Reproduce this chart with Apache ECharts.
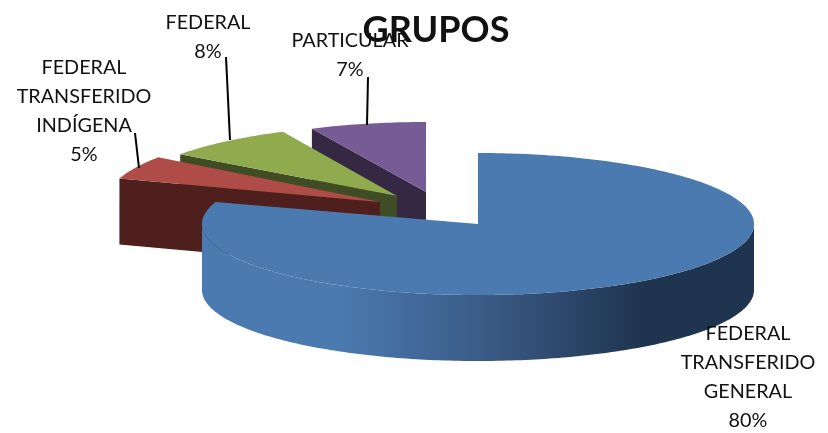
<!DOCTYPE html>
<html>
<head>
<meta charset="utf-8">
<title>GRUPOS</title>
<script src="https://cdn.jsdelivr.net/npm/echarts@6/dist/echarts.min.js"></script>
<style>
  html, body { margin: 0; padding: 0; background: #fff; }
  #chart { width: 828px; height: 433px; }
</style>
</head>
<body>
<div id="chart"></div>
<script>
// datos
const names = [
  "FEDERAL\nTRANSFERIDO\nGENERAL",
  "FEDERAL\nTRANSFERIDO\nINDÍGENA",
  "FEDERAL",
  "PARTICULAR",
];
const values = [80, 5, 8, 7];

// layout of the tilted pie, the slices are pulled apart by hand like in the original
const topColors = ["#4a7ab0", "#b04c48", "#8fab4e", "#775b94"];
const wallColors = ["#3a5a85", "#4f1f1d", "#3f4c24", "#352842"];
const centers = [[478, 224], [380, 202], [397, 196], [426, 192]];
const radii = [[276, 71], [274, 76], [268, 71], [268, 70]];
const depth = 66;
const labelPos = [[748, 377], [84, 111], [208, 37], [350, 55]];
const leaders = [null, [[135, 133], [139, 168]], [[226, 57], [230, 140]], [[368, 77], [367, 125]]];

const total = values.reduce((a, b) => a + b, 0);
const starts = [];
values.reduce((acc, v, i) => {
  starts[i] = acc;
  return acc + (v / total) * 360;
}, 0);

function rimPoint(i, deg, drop) {
  const rad = (deg * Math.PI) / 180;
  return [
    centers[i][0] + radii[i][0] * Math.sin(rad),
    centers[i][1] - radii[i][1] * Math.cos(rad) + (drop || 0),
  ];
}

function arcPoints(i, from, to, drop) {
  const pts = [];
  const steps = Math.max(2, Math.ceil(Math.abs(to - from)));
  for (let s = 0; s <= steps; s++) {
    pts.push(rimPoint(i, from + ((to - from) * s) / steps, drop));
  }
  return pts;
}

function renderSlice(params) {
  // back slices are painted first, the big one goes on top
  const i = values.length - 1 - params.dataIndex;
  const from = starts[i];
  const to = from + (values[i] / total) * 360;
  const c = centers[i];
  const children = [];

  // inner wall, on the edge that looks towards the viewer
  const rimA = rimPoint(i, from);
  children.push({
    type: "polygon",
    shape: { points: [rimA, c, [c[0], c[1] + depth], [rimA[0], rimA[1] + depth]] },
    style: { fill: wallColors[i] },
  });

  // outer wall, only the front half of the ellipse
  const sideFrom = Math.max(from, 90);
  const sideTo = Math.min(to, 270);
  if (sideTo > sideFrom) {
    const side = arcPoints(i, sideFrom, sideTo, 0).concat(arcPoints(i, sideTo, sideFrom, depth));
    children.push({
      type: "polygon",
      shape: { points: side },
      style: {
        fill: {
          type: "linear",
          x: centers[i][0] - radii[i][0],
          y: 0,
          x2: centers[i][0] + radii[i][0],
          y2: 0,
          global: true,
          colorStops: [
            { offset: 0, color: "#4a7ab0" },
            { offset: 0.25, color: "#4a7ab0" },
            { offset: 0.52, color: "#3a5a85" },
            { offset: 0.8, color: "#1f344f" },
            { offset: 1, color: "#1f344f" },
          ],
        },
      },
    });
  }

  // top face
  children.push({
    type: "polygon",
    shape: { points: [c].concat(arcPoints(i, from, to, 0)) },
    style: { fill: topColors[i] },
  });

  return { type: "group", children: children };
}

function renderLabel(params) {
  const i = params.dataIndex;
  const children = [];
  if (leaders[i]) {
    children.push({
      type: "line",
      shape: {
        x1: leaders[i][0][0],
        y1: leaders[i][0][1],
        x2: leaders[i][1][0],
        y2: leaders[i][1][1],
      },
      style: { stroke: "#000", lineWidth: 2 },
    });
  }
  children.push({
    type: "text",
    style: {
      x: labelPos[i][0],
      y: labelPos[i][1],
      text: names[i] + "\n" + Math.round((values[i] / total) * 100) + "%",
      fill: "#111",
      fontFamily: "Lato",
      fontSize: 19.8,
      lineHeight: 29,
      align: "center",
      verticalAlign: "middle",
    },
  });
  return { type: "group", children: children };
}

const myChart = echarts.init(document.getElementById("chart"), null, { renderer: "canvas" });
myChart.setOption({
  animation: false,
  backgroundColor: "#fff",
  title: {
    text: "GRUPOS",
    left: 431,
    top: 7,
    textAlign: "center",
    textStyle: { color: "#111", fontFamily: "Lato", fontWeight: "bold", fontSize: 36 },
  },
  series: [
    {
      type: "custom",
      coordinateSystem: "none",
      silent: true,
      z: 2,
      renderItem: renderSlice,
      data: values.slice().reverse(),
    },
    {
      type: "custom",
      coordinateSystem: "none",
      silent: true,
      z: 3,
      renderItem: renderLabel,
      data: values,
    },
  ],
});
</script>
</body>
</html>
